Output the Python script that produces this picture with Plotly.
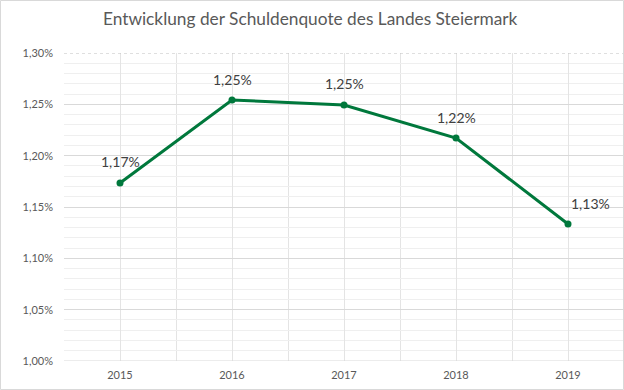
import plotly.graph_objects as go

years = [2015, 2016, 2017, 2018, 2019]
quote = [1.1734, 1.2542, 1.2494, 1.2172, 1.1334]
label_xshift = [0, 0, 0, 0, 22]
title_text = "Entwicklung der Schuldenquote des Landes Steiermark"

green = "#00783c"
font_family = "Lato, 'Open Sans', sans-serif"

W, H = 624, 390
L, R, T, B = 64, 0, 53, 29
pw, ph = W - L - R, H - T - B

fig = go.Figure()
fig.add_trace(go.Scatter(
    x=years, y=quote, mode="lines+markers",
    line=dict(color=green, width=3),
    marker=dict(color=green, size=7),
    cliponaxis=False, showlegend=False, hoverinfo="skip",
))

annotations = []
for x, v, dx in zip(years, quote, label_xshift):
    annotations.append(dict(
        x=x, y=v, xref="x", yref="y", text=f"{v:.2f}".replace(".", ",") + "%",
        showarrow=False, xanchor="center", yanchor="middle",
        xshift=dx, yshift=21,
        font=dict(family=font_family, size=14, color="#404040"),
    ))

fig.update_layout(
    width=W, height=H,
    margin=dict(l=L, r=R, t=T, b=B, pad=0),
    paper_bgcolor="white", plot_bgcolor="white",
    separators=",.",
    annotations=annotations,
    title=dict(text=title_text, x=0.497, xanchor="center", y=1 - 19 / H, yanchor="middle",
               font=dict(family=font_family, size=17.3, color="#595959")),
    xaxis=dict(
        range=[2014.5, 2019.5], tickvals=years, ticktext=[str(y) for y in years],
        showgrid=True, gridcolor="#e4e4e4", gridwidth=1,
        minor=dict(dtick=0.5, tick0=2014.5, showgrid=True, gridcolor="#e4e4e4", gridwidth=1),
        zeroline=False, showline=False, ticks="",
        tickfont=dict(family=font_family, size=11, color="#595959"),
        ticklabelstandoff=6,
    ),
    yaxis=dict(
        range=[1.0, 1.30], dtick=0.05, tick0=1.0, tickformat=".2f", ticksuffix="%",
        showgrid=True, gridcolor="#d9d9d9", gridwidth=1,
        minor=dict(dtick=0.01, showgrid=True, gridcolor="#efefef", gridwidth=1),
        zeroline=False, showline=False, ticks="",
        tickfont=dict(family=font_family, size=11, color="#595959"),
        ticklabelstandoff=10,
    ),
    shapes=[
        dict(type="line", xref="paper", yref="y", x0=0, x1=1, y0=1.30, y1=1.30,
             line=dict(color="#bfbfbf", width=1, dash="dot")),
        dict(type="line", xref="paper", yref="y", x0=0, x1=1, y0=1.0, y1=1.0,
             line=dict(color="#d9d9d9", width=1)),
        dict(type="rect", xref="paper", yref="paper",
             x0=(0.5 - L) / pw, x1=(W - 0.5 - L) / pw,
             y0=(T + ph - (H - 0.5)) / ph, y1=(T + ph - 0.5) / ph,
             line=dict(color="#d9d9d9", width=1), fillcolor="rgba(0,0,0,0)", layer="above"),
    ],
)

fig.write_html(
    "out.html",
    config={"displayModeBar": False},
    post_script="document.body.style.margin='0';document.body.style.overflow='hidden';",
)
